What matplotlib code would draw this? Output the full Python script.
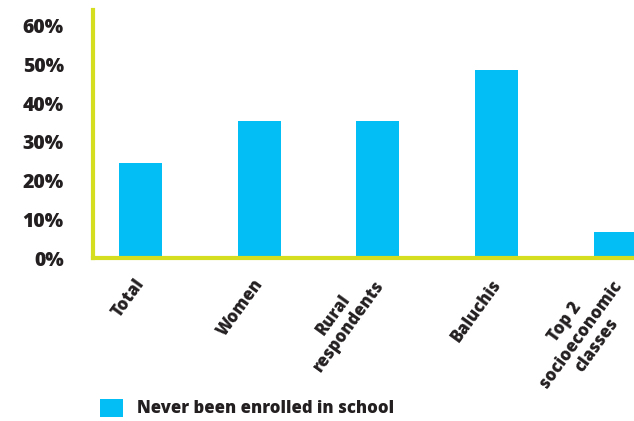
import matplotlib
matplotlib.use("Agg")
import matplotlib.pyplot as plt
import numpy as np
from matplotlib.transforms import ScaledTranslation

categories = ["Total", "Women", "Rural\nrespondents", "Baluchis", "Top 2\nsocioeconomic\nclasses"]
never_enrolled = [24.5, 35.3, 35.3, 48.5, 6.6]
y_ticks = [0, 10, 20, 30, 40, 50, 60]
y_tick_labels = ["0%", "10%", "20%", "30%", "40%", "50%", "60%"]
series_label = "Never been enrolled in school"

bar_color = "#02BEF4"
axis_color = "#D5DF20"
text_color = "#231F20"

plt.rcParams["font.family"] = ["Open Sans", "DejaVu Sans"]

fig = plt.figure(figsize=(6.34, 4.21), dpi=100)
ax = fig.add_axes([93 / 634, 1 - 258 / 421, 1 - 93 / 634, 248 / 421])

x = list(range(len(categories)))
ax.bar(x, never_enrolled, width=0.362, color=bar_color, label=series_label, zorder=2)

ax.set_xlim(-0.399, 4.158)
ax.set_ylim(0, 64)

for side in ("top", "right"):
    ax.spines[side].set_visible(False)
for side in ("left", "bottom"):
    ax.spines[side].set_color(axis_color)
    ax.spines[side].set_linewidth(3)
    ax.spines[side].set_zorder(3)

ax.set_yticks(y_ticks)
ax.set_yticklabels(y_tick_labels, fontsize=14, fontweight=800, color=text_color)
ax.tick_params(axis="y", length=0, pad=21)

# Slanted category labels: each label is anchored at the end of its longest line.
label_size = 12
line_spacing = 1.2
angle = 54
ax.set_xticks(x)
ax.set_xticklabels(categories, rotation=angle, rotation_mode="anchor",
                   ha="right", va="baseline", multialignment="center",
                   fontsize=label_size, fontweight=800, color=text_color,
                   linespacing=line_spacing)
ax.tick_params(axis="x", length=0, pad=18.5)

theta = np.deg2rad(angle)
pitch_pt = label_size * (0.24 + 0.76 * line_spacing)
for lbl, name in zip(ax.get_xticklabels(), categories):
    lines = name.split("\n")
    longest = max(range(len(lines)), key=lambda i: len(lines[i]))
    below = len(lines) - 1 - longest
    dx_pt = 3.5 + below * pitch_pt * np.sin(theta)
    dy_pt = -below * pitch_pt * np.cos(theta)
    lbl.set_transform(lbl.get_transform()
                      + ScaledTranslation(dx_pt / 72, dy_pt / 72, fig.dpi_scale_trans))

fig.legend(loc="center left", bbox_to_anchor=(100 / 634, 1 - 408 / 421),
           frameon=False, borderpad=0, borderaxespad=0,
           handlelength=1.4, handleheight=1.3, handletextpad=0.8,
           prop={"size": 12, "weight": 800}, labelcolor=text_color)

fig.savefig("out.png", dpi=100)
